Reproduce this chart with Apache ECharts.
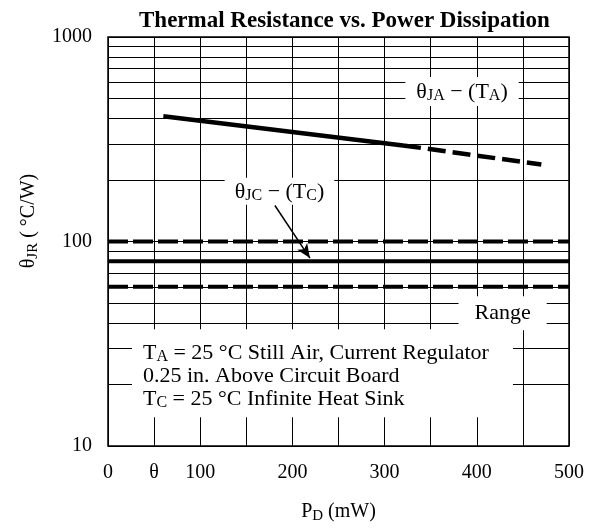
<!DOCTYPE html>
<html>
<head>
<meta charset="utf-8">
<script src="https://cdn.jsdelivr.net/npm/echarts@6/dist/echarts.min.js"></script>
<style>
  html, body { margin: 0; padding: 0; background: #fff; }
  #main { width: 589px; height: 529px; }
</style>
</head>
<body>
<div id="main"></div>
<script>
// x ticks (mW) and their printed labels
const xTicks = [0, 50, 100, 150, 200, 250, 300, 350, 400, 450, 500];
const xTickLabels = ['0', 'θ', '100', '', '200', '', '300', '', '400', '', '500'];
const yTickLabels = ['10', '100', '1000'];
// log minor grid lines
const minorGrid = [20, 30, 40, 50, 60, 70, 80, 90, 200, 300, 400, 500, 600, 700, 800, 900];

// theta JA curve (solid part then dashed extrapolation)
const jaSolid = [[60, 410], [320, 295]];
const jaDashed = [[320, 295], [470, 238]];
// theta JC typical and range limits
const jcTypical = [[0, 80], [500, 80]];
const rangeHigh = [[0, 100], [500, 100]];
const rangeLow = [[0, 60], [500, 60]];
// arrow from label to JC line
const jcArrow = [[181, 150], [219, 83]];

const serif = 'Liberation Serif';

// rich styles with a lowered subscript
function mkRich(size, subSize, lh) {
  return {
    t: { fontFamily: serif, fontSize: size, lineHeight: lh, color: '#000' },
    s: {
      fontFamily: serif, fontSize: subSize, lineHeight: Math.round(lh / 2),
      color: '#000', verticalAlign: 'bottom', padding: [lh - Math.round(lh / 2), 0, 0, 0]
    }
  };
}
const richLabel = mkRich(22, 16, 24);
const richName = mkRich(20, 15, 24);

let myChart = echarts.init(document.getElementById('main'));

let option = {
  animation: false,
  title: {
    text: 'Thermal Resistance vs. Power Dissipation',
    left: 134,
    top: 5,
    textStyle: { fontFamily: serif, fontWeight: 'bold', fontSize: 23, color: '#000' }
  },
  grid: {
    left: 108, right: 20, top: 37, bottom: 82,
    show: true, borderColor: '#000', borderWidth: 1.5
  },
  xAxis: {
    type: 'value',
    min: 0, max: 500, interval: 50,
    name: '{t|P}{s|D}{t| (mW)}',
    nameLocation: 'middle',
    nameGap: 54,
    nameTextStyle: { rich: richName },
    axisLine: { show: false },
    axisTick: { show: false },
    axisLabel: {
      margin: 17,
      fontFamily: serif, fontSize: 20, color: '#000',
      formatter: function (v) {
        let i = xTicks.indexOf(v);
        return i >= 0 ? xTickLabels[i] : '';
      }
    },
    splitLine: { show: true, lineStyle: { color: '#000', width: 1 } }
  },
  yAxis: {
    type: 'log',
    logBase: 10,
    min: 10, max: 1000,
    axisLine: { show: false },
    axisTick: { show: false },
    axisLabel: {
      margin: 16,
      fontFamily: serif, fontSize: 20, color: '#000',
      formatter: function (v) {
        let s = String(Math.round(v));
        return yTickLabels.indexOf(s) >= 0 ? s : '';
      }
    },
    splitLine: { show: true, lineStyle: { color: '#000', width: 1 } }
  },
  series: [
    {
      name: 'minor grid',
      type: 'line',
      data: [],
      z: 1,
      markLine: {
        silent: true,
        symbol: 'none',
        label: { show: false },
        lineStyle: { color: '#000', width: 1, type: 'solid' },
        data: minorGrid.map(v => ({ yAxis: v }))
      }
    },
    {
      name: 'JA solid', type: 'line', data: jaSolid, z: 3,
      symbol: 'none',
      lineStyle: { color: '#000', width: 4.5 }
    },
    {
      name: 'JA dashed', type: 'line', data: jaDashed, z: 3,
      symbol: 'none',
      lineStyle: { color: '#000', width: 4.5, type: [18, 7] }
    },
    {
      name: 'JC', type: 'line', data: jcTypical, z: 3,
      symbol: 'none',
      lineStyle: { color: '#000', width: 4 },
      markLine: {
        silent: true,
        symbol: ['none', 'arrow'],
        symbolSize: [9, 14],
        label: { show: false },
        lineStyle: { color: '#000', width: 1.5, type: 'solid' },
        data: [[{ coord: jcArrow[0] }, { coord: jcArrow[1] }]]
      }
    },
    {
      name: 'range high', type: 'line', data: rangeHigh, z: 3,
      symbol: 'none',
      lineStyle: { color: '#000', width: 4, type: [20, 5] }
    },
    {
      name: 'range low', type: 'line', data: rangeLow, z: 3,
      symbol: 'none',
      lineStyle: { color: '#000', width: 4, type: [20, 5] }
    }
  ]
};

myChart.setOption(option, true);

// annotation boxes placed in data coordinates
function px(x, y) {
  return myChart.convertToPixel({ xAxisIndex: 0, yAxisIndex: 0 }, [x, y]);
}
let pJA = px(384, 542);
let pJC = px(186, 176);
let pRange = px(428, 44.6);
let pNote = px(26, 37.2);

myChart.setOption({
  graphic: [
    {
      type: 'text', x: pJA[0], y: pJA[1], z: 10,
      style: {
        text: '{t|θ}{s|JA}{t| − (T}{s|A}{t|)}', rich: richLabel,
        align: 'center', verticalAlign: 'middle',
        backgroundColor: '#fff', padding: [3, 11, 2, 11]
      }
    },
    {
      type: 'text', x: pJC[0], y: pJC[1], z: 10,
      style: {
        text: '{t|θ}{s|JC}{t| − (T}{s|C}{t|)}', rich: richLabel,
        align: 'center', verticalAlign: 'middle',
        backgroundColor: '#fff', padding: [2, 10, 1, 10]
      }
    },
    {
      type: 'text', x: pRange[0], y: pRange[1], z: 10,
      style: {
        text: '{t|Range}', rich: richLabel,
        align: 'center', verticalAlign: 'middle',
        backgroundColor: '#fff', padding: [5, 16, 5, 16]
      }
    },
    {
      type: 'rect', x: pNote[0], y: pNote[1], z: 10,
      shape: { width: 381, height: 88 },
      style: { fill: '#fff' }
    },
    {
      type: 'text', x: pNote[0] + 11, y: pNote[1] + 12, z: 11,
      style: {
        text: '{t|T}{s|A}{t| = 25 °C Still Air, Current Regulator}\n{t|0.25 in. Above Circuit Board}\n{t|T}{s|C}{t| = 25 °C Infinite Heat Sink}',
        rich: mkRich(22, 16, 23)
      }
    },
    {
      type: 'text', x: 29, y: 221, rotation: Math.PI / 2, z: 10,
      style: {
        text: '{t|θ}{s|JR}{t| ( °C/W)}', rich: richName,
        align: 'center', verticalAlign: 'middle'
      }
    }
  ]
});

window.addEventListener('resize', () => {
  myChart.resize();
});
</script>
</body>
</html>
